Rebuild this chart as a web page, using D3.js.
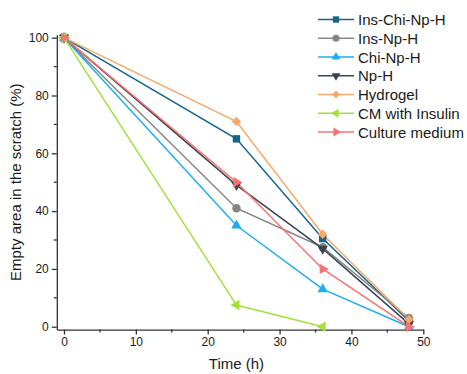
<!DOCTYPE html>
<html>
<head>
<meta charset="utf-8">
<script src="https://cdn.jsdelivr.net/npm/d3@7"></script>
<style>
  body { margin: 0; background: #fff; }
  text { font-family: "Liberation Sans", Arial, sans-serif; fill: #1a1a1a; }
</style>
</head>
<body>
<div id="chart"></div>
<script>
const times = [0, 24, 36, 48]
const seriesNames = ["Ins-Chi-Np-H", "Ins-Np-H", "Chi-Np-H", "Np-H", "Hydrogel", "CM with Insulin", "Culture medium"]
const insChiNpH = [100, 65, 30.5, 2]
const insNpH = [100, 41, 27.5, 3]
const chiNpH = [100, 35, 13, 0]
const npH = [100, 49, 27, 1]
const hydrogel = [100, 71, 32, 2.5]
const cmInsulin = [100, 7.5, 0]
const cultureMedium = [100, 50, 20, 0]
const xTicks = [0, 10, 20, 30, 40, 50]
const yTicks = [0, 20, 40, 60, 80, 100]

const colors = ["#15648c", "#858585", "#1aaff0", "#3a4450", "#f7a86a", "#a3e03c", "#f87272"]
const symbols = ["square", "circle", "up", "down", "diamond", "left", "right"]
const allValues = [insChiNpH, insNpH, chiNpH, npH, hydrogel, cmInsulin, cultureMedium]

const series = seriesNames.map((name, i) => ({
  name: name,
  color: colors[i],
  symbol: symbols[i],
  points: allValues[i].map((v, j) => ({ t: times[j], v: v }))
}))

const svg = d3.select("#chart").append("svg")
  .attr("width", 467)
  .attr("height", 374)

const x = d3.scaleLinear().domain([-1, 50]).range([56.8, 423.3])
const y = d3.scaleLinear().domain([-1, 101]).range([329.6, 34.8])

// axes
const xAxis = svg.append("g")
  .attr("transform", `translate(0,${y(-1)})`)
  .call(d3.axisBottom(x).tickValues(xTicks).tickSize(5).tickSizeOuter(0).tickPadding(3))
xAxis.append("g").selectAll("line")
  .data([5, 15, 25, 35, 45])
  .enter().append("line")
    .attr("x1", d => x(d)).attr("x2", d => x(d))
    .attr("y1", 0).attr("y2", 3)
    .attr("stroke", "#333").attr("stroke-width", 1.3)

const yAxis = svg.append("g")
  .attr("transform", `translate(${x(-1)},0)`)
  .call(d3.axisLeft(y).tickValues(yTicks).tickSize(5).tickSizeOuter(0).tickPadding(3))
yAxis.append("g").selectAll("line")
  .data([10, 30, 50, 70, 90])
  .enter().append("line")
    .attr("y1", d => y(d)).attr("y2", d => y(d))
    .attr("x1", 0).attr("x2", -3)
    .attr("stroke", "#333").attr("stroke-width", 1.3)

svg.selectAll(".domain, .tick line")
  .attr("stroke", "#333")
  .attr("stroke-width", 1.3)
svg.selectAll(".tick text")
  .style("font-size", "12px")
  .style("font-family", "Liberation Sans, Arial, sans-serif")
  .attr("fill", "#1a1a1a")

svg.append("text")
  .attr("x", x(24))
  .attr("y", 369)
  .attr("text-anchor", "middle")
  .style("font-size", "15px")
  .text("Time (h)")

svg.append("text")
  .attr("transform", `translate(21,${(y(0) + y(100)) / 2}) rotate(-90)`)
  .attr("text-anchor", "middle")
  .style("font-size", "15px")
  .text("Empty area in the scratch (%)")

// marker helper
const drawMarker = (g, sym, color, size) => {
  const tri = { up: 0, right: 90, down: 180, left: 270 }
  if (sym in tri) {
    g.append("path")
      .attr("d", d3.symbol().type(d3.symbolTriangle).size(size * 0.85)())
      .attr("transform", `rotate(${tri[sym]})`)
      .attr("fill", color)
  } else if (sym === "diamond") {
    g.append("path")
      .attr("d", d3.symbol().type(d3.symbolSquare).size(size * 0.8)())
      .attr("transform", "rotate(45)")
      .attr("fill", color)
  } else {
    g.append("path")
      .attr("d", d3.symbol().type(sym === "square" ? d3.symbolSquare : d3.symbolCircle).size(size)())
      .attr("fill", color)
  }
}

const line = d3.line().x(d => x(d.t)).y(d => y(d.v))

series.forEach(s => {
  svg.append("path")
    .datum(s.points)
    .attr("d", line)
    .attr("fill", "none")
    .attr("stroke", s.color)
    .attr("stroke-width", 1.5)
})
series.forEach(s => {
  s.points.forEach(p => {
    const g = svg.append("g").attr("transform", `translate(${x(p.t)},${y(p.v)})`)
    drawMarker(g, s.symbol, s.color, 55)
  })
})

// legend
const legend = svg.append("g").attr("transform", "translate(318,19.5)")
series.forEach((s, i) => {
  const row = legend.append("g").attr("transform", `translate(0,${i * 18.75})`)
  row.append("line")
    .attr("x1", 0).attr("x2", 36)
    .attr("stroke", s.color).attr("stroke-width", 1.5)
  const g = row.append("g").attr("transform", "translate(18,0)")
  drawMarker(g, s.symbol, s.color, 40)
  row.append("text")
    .attr("x", 40)
    .attr("y", 5.5)
    .style("font-size", "15px")
    .text(s.name)
})
</script>
</body>
</html>
